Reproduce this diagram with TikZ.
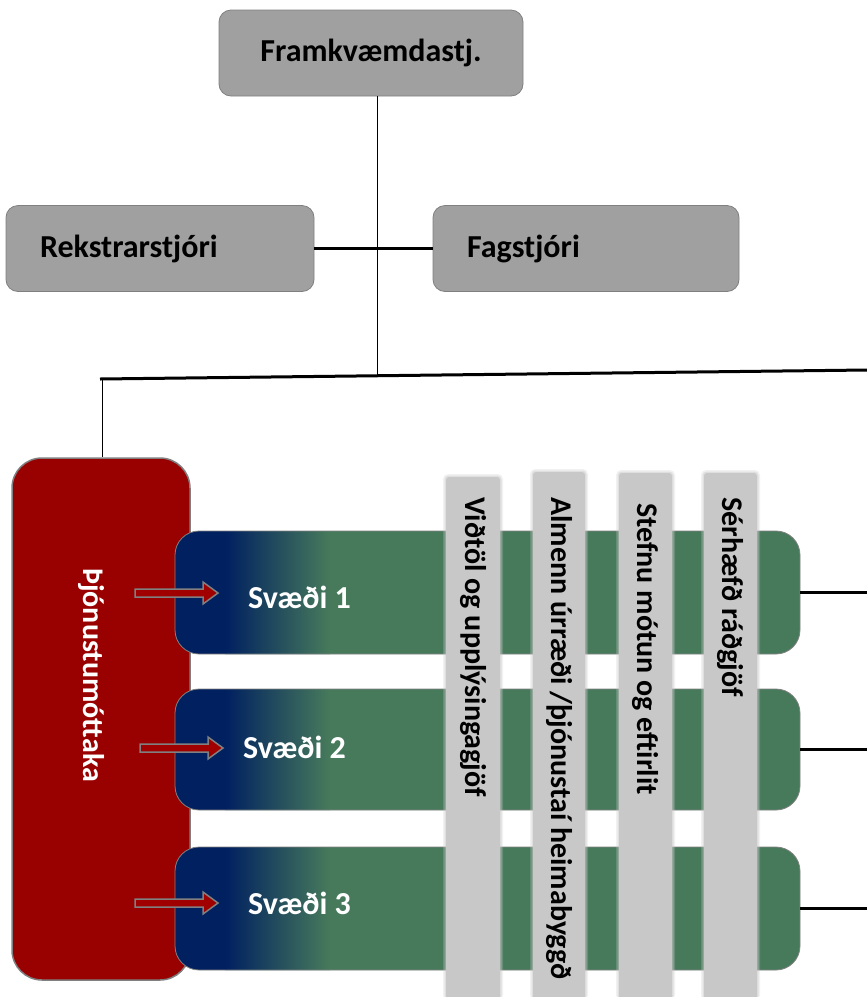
\documentclass[tikz,border=0pt]{standalone}
\usepackage{fontspec}
\setmainfont{Carlito}
\usetikzlibrary{calc}
\definecolor{boxgray}{HTML}{A0A0A0}
\definecolor{edgegray}{HTML}{808080}
\definecolor{darkred}{HTML}{990000}
\definecolor{arrowred}{HTML}{A00000}
\definecolor{navy}{HTML}{002060}
\definecolor{zgreen}{HTML}{477A5B}
\definecolor{bargray}{HTML}{C8C8C8}
\begin{document}
\begin{tikzpicture}[x=1pt,y=-1pt,
  mgrbox/.style={draw=edgegray, line width=0.8pt, fill=boxgray, rounded corners=12pt,
    minimum height=86pt, font=\fontsize{32}{36}\selectfont\bfseries, text=black},
  zonebox/.style={draw=edgegray, line width=0.8pt, fill=zgreen, rounded corners=24pt,
    minimum width=625pt,
    path picture={
      \fill[navy, sharp corners] (path picture bounding box.south west) rectangle ($(path picture bounding box.north west)+(50,0)$);
      \shade[left color=navy, right color=zgreen, sharp corners] ($(path picture bounding box.south west)+(50,0)$) rectangle ($(path picture bounding box.north west)+(155,0)$);
    }},
  zonelabel/.style={text=white, font=\fontsize{32}{36}\selectfont\bfseries, anchor=west, inner sep=0pt},
  barlabel/.style={text=black, font=\fontsize{30}{34}\selectfont\bfseries, rotate=-90, anchor=west, inner sep=0pt},
  thinline/.style={draw=black, line width=0.8pt},
  thickline/.style={draw=black, line width=3pt},
  blockarrow/.style={fill=arrowred, draw=edgegray, line width=1.5pt}
]
\useasboundingbox (0,0) rectangle (867,997);

% managers
\node[mgrbox, minimum width=304pt] (ceo) at (371,53) {Framkvæmdastj.};
\node[mgrbox, text width=240pt, inner xsep=34pt, align=left] (rekstur) at (160,248.5) {Rekstrarstjóri};
\node[mgrbox, text width=238pt, inner xsep=34pt, align=left] (fag) at (586,248.5) {Fagstjóri};

% bus
\coordinate (busL) at (100,379);
\coordinate (busR) at (867,370);
\coordinate (busjoin) at (377,374.5);
\draw[thinline] (ceo.south -| busjoin) -- (busjoin);
\draw[thickline] (rekstur.east) -- (fag.west);
\draw[thickline] (busL) -- (busR);

% intake
\node[draw=edgegray, line width=1.5pt, fill=darkred, rounded corners=30pt,
  minimum width=178pt, minimum height=522pt] (intake) at (101,719) {};
\coordinate (intakejoin) at (102,379);
\draw[thinline] (intakejoin) -- (intakejoin |- intake.north);
\node[text=white, font=\fontsize{30}{34}\selectfont\bfseries, rotate=-90] (intakelabel) at (91,675) {Þjónustumóttaka};

% zones
\node[zonebox, minimum height=123pt] (zone1) at (487.5,592.5) {};
\node[zonebox, minimum height=121pt] (zone2) at (487.5,749.5) {};
\node[zonebox, minimum height=123pt] (zone3) at (487.5,908.5) {};
\node[zonelabel] (z1label) at (248,597) {Svæði 1};
\node[zonelabel] (z2label) at (243,747) {Svæði 2};
\node[zonelabel] (z3label) at (248,903) {Svæði 3};

% arrows
\foreach \ax/\ay in {135/593, 140/748, 135/903}{
  \draw[blockarrow] (\ax,\ay-4) -- ++(68,0) -- ++(0,-7) -- ++(15,11) -- ++(-15,11) -- ++(0,-7) -- ++(-68,0) -- cycle;
}

% right connectors
\coordinate (r1) at (867,592.5);
\coordinate (r2) at (867,749.5);
\coordinate (r3) at (867,908.5);
\draw[thickline] (zone1.east) -- (r1);
\draw[thickline] (zone2.east) -- (r2);
\draw[thickline] (zone3.east) -- (r3);

% vertical service bars
\foreach \xl/\xr/\yt in {446/500/477, 533/585/472, 619/672/473, 704/757/473}{
  \fill[bargray, opacity=0.25, rounded corners=5pt] (\xl-3,\yt-3) rectangle (\xr+3,1000);
  \fill[bargray, opacity=0.45, rounded corners=4pt] (\xl-1.5,\yt-1.5) rectangle (\xr+1.5,1000);
  \fill[bargray, rounded corners=3pt] (\xl,\yt) rectangle (\xr,1000);
}
\node[barlabel] (bar1) at (473,497) {Viðtöl og upplýsingagjöf};
\node[barlabel] (bar2) at (559,497) {Almenn úrræði /þjónustaí heimabyggð};
\node[barlabel] (bar3) at (645,503) {Stefnu mótun og eftirlit};
\node[barlabel] (bar4) at (730,497) {Sérhæfð ráðgjöf};
\end{tikzpicture}
\end{document}
